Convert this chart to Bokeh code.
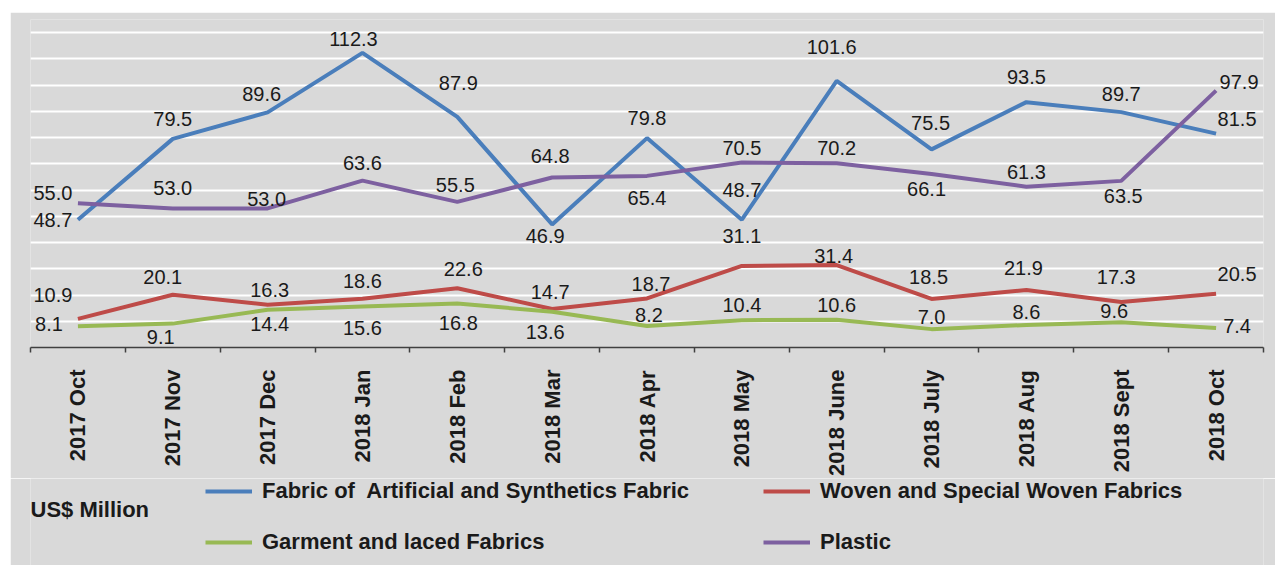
import math
from bokeh.plotting import figure
from bokeh.layouts import column
from bokeh.models import (Range1d, FixedTicker, Grid, Legend, LegendItem, Label,
                          ColumnDataSource)
from bokeh.core.properties import value
from bokeh.embed import file_html
from bokeh.resources import INLINE

# ---------------- data ----------------
months = ["2017 Oct", "2017 Nov", "2017 Dec", "2018 Jan", "2018 Feb", "2018 Mar",
          "2018 Apr", "2018 May", "2018 June", "2018 July", "2018 Aug", "2018 Sept",
          "2018 Oct"]
fabric_artificial = [48.7, 79.5, 89.6, 112.3, 87.9, 46.9, 79.8, 48.7, 101.6, 75.5, 93.5, 89.7, 81.5]
woven_special = [10.9, 20.1, 16.3, 18.6, 22.6, 14.7, 18.7, 31.1, 31.4, 18.5, 21.9, 17.3, 20.5]
garment_laced = [8.1, 9.1, 14.4, 15.6, 16.8, 13.6, 8.2, 10.4, 10.6, 7.0, 8.6, 9.6, 7.4]
plastic = [55.0, 53.0, 53.0, 63.6, 55.5, 64.8, 65.4, 70.5, 70.2, 66.1, 61.3, 63.5, 97.9]
grid_values = [10, 20, 30, 40, 50, 60, 70, 80, 90, 100, 110, 120]

series_names = ["Fabric of  Artificial and Synthetics Fabric",
                "Woven and Special Woven Fabrics",
                "Garment and laced Fabrics",
                "Plastic"]
unit_text = "US$ Million"

# ---------------- label placement (screen px offsets, layout only) ----------------
blue_dx = [-25, 0, -6, -9, 1, -7, 0, 0, -5, -1, 0, 0, 21]
blue_dy = [0, -20, -18, -14, -34, 12, -20, -30, -34, -26, -25, -18, -15]
red_dx = [-25, -10, 2, 0, 6, -2, 4, 0, -3, -3, -3, -5, 21]
red_dy = [-24, -18, -15, -18, -19, -17, -14, -30, -9, -22, -22, -25, -20]
green_dx = [-29, -12, 2, 0, 1, -7, 2, 0, 0, 0, 0, -7, 21]
green_dy = [-2, 13, 14, 21, 20, 20, -11, -15, -15, -12, -13, -11, -2]
purple_dx = [-25, 0, -1, 0, -2, -2, 0, 0, 0, -5, 0, 2, 23]
purple_dy = [-10, -20, -9, -18, -17, -21, 22, -15, -15, 15, -15, 15, -9]

# ---------------- styling ----------------
BG = "#d9d9d9"
TEXT = "#1a1a1a"
FONT = "Liberation Sans"
colors = ["#4A7EBB", "#BE4B48", "#98B954", "#7D60A0"]
W = 1265
H1 = 466
H2 = 87
BL, BR = 20, 12

xpos = [i + 0.5 for i in range(len(months))]
all_vals = [fabric_artificial, woven_special, garment_laced, plastic]
all_dx = [blue_dx, red_dx, green_dx, purple_dx]
all_dy = [blue_dy, red_dy, green_dy, purple_dy]

p = figure(width=W, height=H1, output_backend="svg", toolbar_location=None,
           x_range=Range1d(0, len(months)), y_range=Range1d(0, 125),
           y_axis_location=None, min_border_left=BL, min_border_right=BR,
           min_border_top=7, min_border_bottom=130)
p.background_fill_color = BG
p.border_fill_color = BG
p.outline_line_color = None
p.xgrid.visible = False

grid = Grid(dimension=1, ticker=FixedTicker(ticks=grid_values),
            grid_line_color="white", grid_line_width=2)
p.add_layout(grid)

ax = p.xaxis[0]
ax.ticker = FixedTicker(ticks=xpos, minor_ticks=list(range(len(months) + 1)))
ax.major_label_overrides = {x: m for x, m in zip(xpos, months)}
ax.major_label_orientation = math.pi / 2
ax.major_tick_line_color = None
ax.major_tick_out = 0
ax.major_tick_in = 0
ax.minor_tick_line_color = "#404040"
ax.minor_tick_line_width = 1.5
ax.minor_tick_out = 5
ax.minor_tick_in = 0
ax.axis_line_color = "#404040"
ax.axis_line_width = 1.5
ax.major_label_standoff = 17
ax.major_label_text_font = FONT
ax.major_label_text_font_size = "22px"
ax.major_label_text_font_style = "bold"
ax.major_label_text_color = TEXT

for vals, col in zip(all_vals, colors):
    src = ColumnDataSource(dict(x=xpos, y=vals))
    p.line("x", "y", source=src, line_color=col, line_width=4)

for vals, dx, dy in zip(all_vals, all_dx, all_dy):
    src = ColumnDataSource(dict(x=xpos, y=vals, t=[f"{v:.1f}" for v in vals], dx=dx, dy=dy))
    p.text("x", "y", text="t", x_offset="dx", y_offset="dy", source=src,
           text_align="center", text_baseline="middle",
           text_font=value(FONT), text_font_size="20px", text_color=TEXT)

# ---------------- legend strip (frame aligned with the chart frame) ----------------
FW = W - BL - BR
p2 = figure(width=W, height=H2, output_backend="svg", toolbar_location=None,
            x_range=Range1d(0, FW), y_range=Range1d(0, H2),
            x_axis_location=None, y_axis_location=None,
            min_border_left=BL, min_border_right=BR, min_border_top=0,
            min_border_bottom=0)
p2.background_fill_color = BG
p2.border_fill_color = BG
p2.outline_line_color = None
p2.xgrid.visible = False
p2.ygrid.visible = False

swatches = []
for vals, col in zip(all_vals, colors):
    src = ColumnDataSource(dict(x=xpos, y=vals))
    swatches.append(p2.line("x", "y", source=src, line_color=col, line_width=4,
                            visible=False))

legend = Legend(items=[LegendItem(label=n, renderers=[r]) for n, r in zip(series_names, swatches)],
                location=(175, 10), orientation="horizontal", ncols=2,
                glyph_width=47, glyph_height=26, label_height=26, label_width=476,
                label_standoff=10, spacing=25, padding=0, margin=0,
                background_fill_alpha=0, border_line_color=None,
                label_text_font=FONT, label_text_font_size="22px",
                label_text_font_style="bold", label_text_color=TEXT)
p2.add_layout(legend)

p2.add_layout(Label(x=0, y=56, text=unit_text, text_align="left",
                    text_baseline="middle", text_font=FONT, text_font_size="22px",
                    text_font_style="bold", text_color=TEXT))

layout = column(p, p2, spacing=0, margin=(12, 0, 0, 10))
open("out.html", "w").write(file_html(layout, INLINE))
